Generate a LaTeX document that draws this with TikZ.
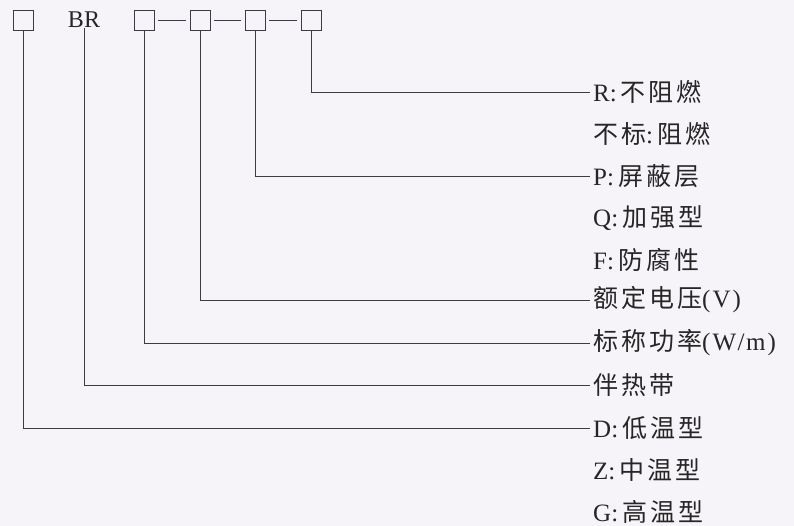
\documentclass[tikz,border=0pt]{standalone}
\usepackage{fontspec}
\setmainfont{Liberation Serif}
\newfontfamily\cjk{Noto Sans CJK SC}[LetterSpace=12]
\definecolor{paper}{RGB}{247,244,249}
\definecolor{ink}{RGB}{60,60,68}

\begin{document}
\begin{tikzpicture}[x=1pt,y=-1pt,
  bx/.style={draw=ink,line width=0.8pt,minimum size=20pt,inner sep=0pt},
  lb/.style={anchor=west,inner sep=0pt,font=\fontsize{25}{25}\selectfont,text=black!85},
  ln/.style={draw=ink,line width=0.8pt}]
\fill[paper] (0,0) rectangle (794,526);
\useasboundingbox (0,0) rectangle (794,526);

% code boxes
\node[bx] (b1) at (23,20) {};
\node[font=\fontsize{24}{24}\selectfont,text=black!85,inner sep=0pt] (br) at (84,20) {BR};
\foreach \n/\x in {b3/144,b4/200,b5/255,b6/311}
  \node[bx] (\n) at (\x,20) {};
\foreach \a/\b in {b3/b4,b4/b5,b5/b6}
  \draw[ln,shorten <=4pt,shorten >=4pt] (\a.east) -- (\b.west);

% explanations
\node[lb] (R) at (593,92)  {R:\,{\cjk 不阻燃}};
\node[lb] (nb) at (593,134) {{\cjk 不标}:\,{\cjk 阻燃}};
\node[lb] (P) at (593,176) {P:\,{\cjk 屏蔽层}};
\node[lb] (Q) at (593,218) {Q:\,{\cjk 加强型}};
\node[lb] (F) at (593,260) {F:\,{\cjk 防腐性}};
\node[lb] (V) at (593,300) {{\cjk 额定电压}(\kern2pt V\kern2pt)};
\node[lb] (W) at (593,343) {{\cjk 标称功率}(\kern2pt W\kern1.5pt/\kern1.5pt m\kern2pt)};
\node[lb] (H) at (593,385) {{\cjk 伴热带}};
\node[lb] (D) at (593,428) {D:\,{\cjk 低温型}};
\node[lb] (Z) at (593,470) {Z:\,{\cjk 中温型}};
\node[lb] (G) at (593,512) {G:\,{\cjk 高温型}};

% leaders
\foreach \s/\t in {b6/R,b5/P,b4/V,b3/W,br/H,b1/D}
  \draw[ln] (\s.south) |- ([xshift=-3pt]\t.west);

\end{tikzpicture}
\end{document}
